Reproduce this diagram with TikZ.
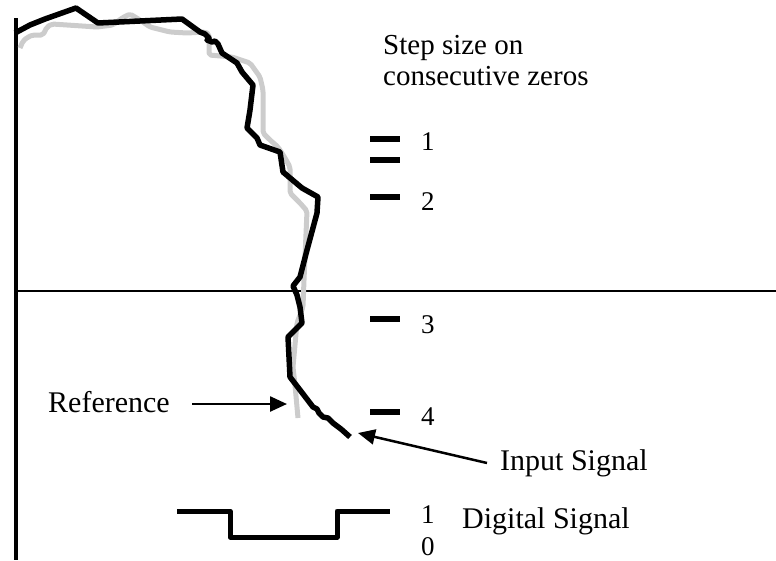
\documentclass[tikz,border=0pt]{standalone}
\usepackage{fontspec}
\setmainfont{Liberation Serif}
\usetikzlibrary{arrows.meta}
\tikzset{
  lbl/.style={inner sep=0pt, anchor=base west, font=\fontsize{30}{34}\selectfont},
  ttl/.style={inner sep=0pt, anchor=base west, font=\fontsize{29}{32}\selectfont},
  digit/.style={inner sep=0pt, anchor=base west, font=\fontsize{27}{30}\selectfont},
  sig/.style={line width=5.5pt, line join=round, line cap=butt},
  refsig/.style={line width=5pt, color=black!20, line join=round, rounded corners=2pt},
  tick/.style={line width=6pt},
  pointer/.style={line width=2.5pt, -{Triangle[length=17pt,width=15pt]}},
  wave/.style={line width=5pt, line join=round}
}
\begin{document}
\begin{tikzpicture}[x=1pt,y=-1pt]
\useasboundingbox (0,0) rectangle (776,560);
% axes
\coordinate (axtop) at (16,18);
\coordinate (axbot) at (16,560);
\coordinate (hl) at (16,291);
\coordinate (hr) at (776,291);
\draw[line width=4.5pt] (axtop) -- (axbot);
\draw[line width=2.2pt] (hl) -- (hr);
% reference (gray)
\draw[refsig] (20,48) -- (23,41) -- (28,37) -- (33,35) -- (43,35) -- (47,27) -- (52,24)
  -- (97,27) -- (113,25) -- (122,18) -- (130,14) -- (140,20) -- (150,27) -- (170,32) -- (187,33)
  -- (205,32) -- (209,34) -- (209,55) -- (232,57) -- (250,63) -- (260,77) -- (263,90)
  -- (263,133) -- (270,140) -- (278,147) -- (285,158) -- (290,167) -- (290,193)
  -- (300,203) -- (307,211) -- (304,280) -- (303,307) -- (297,323) -- (293,367)
  -- (295,385) -- (298,418);
% input signal (black)
\draw[sig] (15,33) -- (30,25) -- (45,19) -- (76,8) -- (98,23) -- (182,19) -- (200,32)
  -- (205,34) -- (209,38) -- (207,40) -- (212,42) -- (215,41) -- (218,44) -- (222,53)
  -- (237,63) -- (242,72) -- (253,85) -- (250,110) -- (247,128) -- (257,138) -- (260,145)
  -- (280,152) -- (283,172) -- (302,188) -- (318,197) -- (317,213) -- (307,250)
  -- (300,277) -- (293,286) -- (297,295) -- (300,307) -- (302,323) -- (288,337)
  -- (290,377) -- (300,390) -- (313,407) -- (317,409) -- (319,413) -- (323,417)
  -- (328,418) -- (333,423) -- (341,429) -- (350,437);
% step size ticks
\draw[tick] (370,139) -- (400,139);
\draw[tick] (370,160) -- (400,160);
\draw[tick] (370,197) -- (400,197);
\draw[tick] (370,319) -- (400,319);
\draw[tick] (370,412) -- (400,412);
\node[ttl] (title1) at (383,54) {Step size on};
\node[ttl] (title2) at (383,85) {consecutive zeros};
\node[digit] (d1) at (421,150) {1};
\node[digit] (d2) at (421,210) {2};
\node[digit] (d3) at (421,333) {3};
\node[digit] (d4) at (421,425) {4};
% labels with arrows
\node[lbl] (reflbl) at (48,412) {Reference};
\coordinate (reftail) at (192,404);
\coordinate (reftip) at (287,404);
\draw[pointer] (reftail) -- (reftip);
\node[lbl] (inlbl) at (500,470) {Input Signal};
\coordinate (intail) at (487,463);
\coordinate (intip) at (358,433);
\draw[pointer] (intail) -- (intip);
% digital signal
\draw[wave] (177,511) -- (230,511) -- (230,537) -- (337,537) -- (337,511) -- (390,511);
\node[digit] (b1) at (421,523) {1};
\node[digit] (b0) at (421,555) {0};
\node[lbl] (diglbl) at (462,528) {Digital Signal};
\end{tikzpicture}
\end{document}
